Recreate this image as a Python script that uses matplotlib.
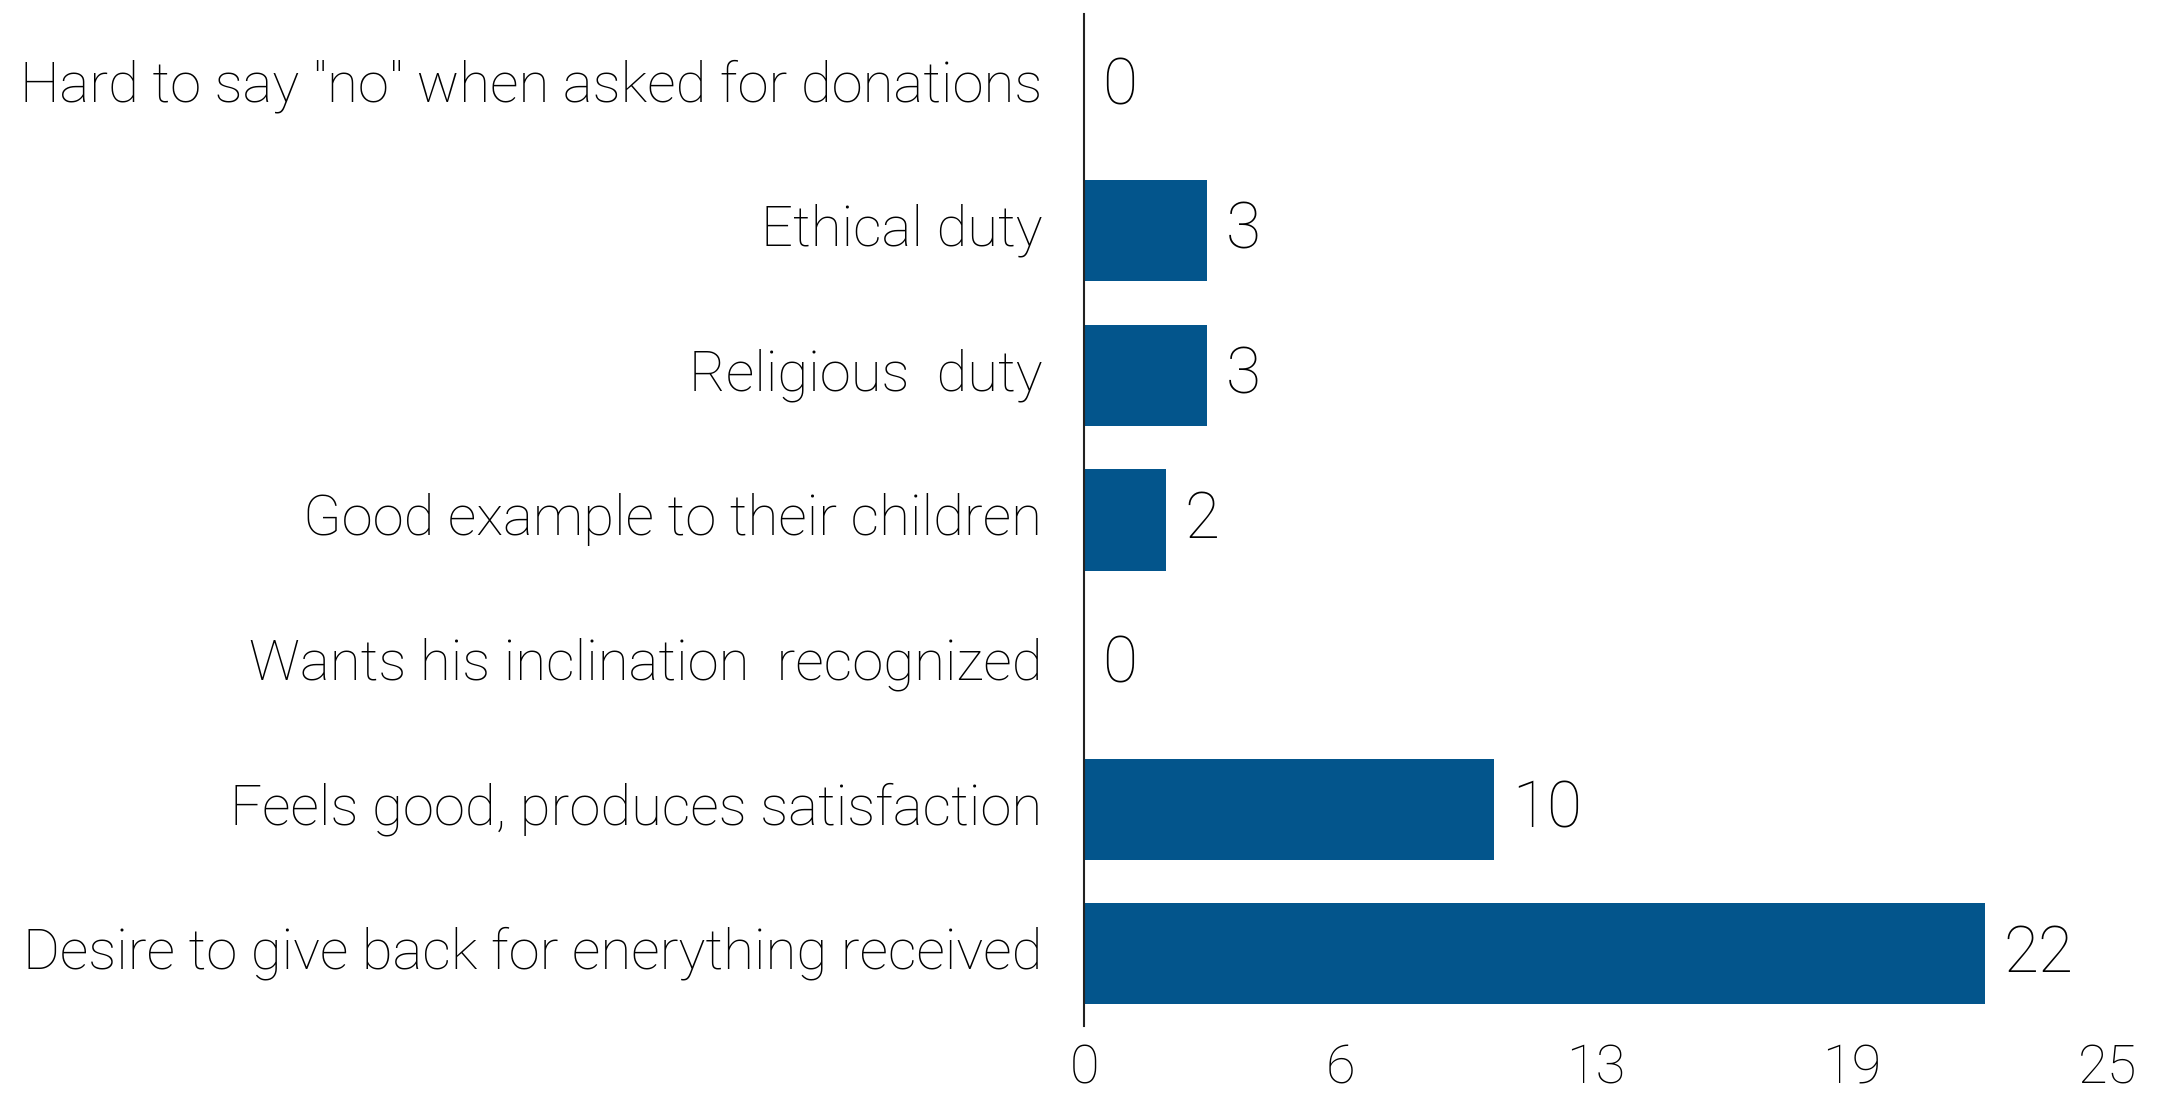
import matplotlib
matplotlib.use("Agg")
import matplotlib.pyplot as plt
from matplotlib.transforms import ScaledTranslation

categories = [
    "Desire to give back for enerything received",
    "Feels good, produces satisfaction",
    "Wants his inclination  recognized",
    "Good example to their children",
    "Religious  duty",
    "Ethical duty",
    'Hard to say "no" when asked for donations',
]
counts = [22, 10, 0, 2, 3, 3, 0]
tick_values = [0, 6.25, 12.5, 18.75, 25]
tick_labels = ["0", "6", "13", "19", "25"]

bar_color = "#03558c"
plt.rcParams["font.family"] = ["Roboto", "DejaVu Sans"]
plt.rcParams["font.weight"] = "light"

fig = plt.figure(figsize=(21.6, 11.02), dpi=100)
ax = fig.add_axes([0.5019, 0.069, 0.474, 0.9183])

ypos = range(len(categories))
ax.barh(ypos, counts, height=0.7, color=bar_color)

for y, v in zip(ypos, counts):
    ax.text(v + 0.45, y, str(v), va="center", ha="left", fontsize=46,
            fontweight="light", color="black")

ax.set_xlim(0, 25)
ax.set_ylim(-0.5, 6.5)
ax.set_yticks(list(ypos))
ax.set_yticklabels(categories, fontsize=40.5, fontweight="light")
ax.set_xticks(tick_values)
ax.set_xticklabels(tick_labels, fontsize=39, fontweight="light")
ax.tick_params(axis="both", length=0)
ax.tick_params(axis="y", pad=30)
ax.tick_params(axis="x", pad=12)

# nudge category labels up a little
shift = ScaledTranslation(0, 6 / 100, fig.dpi_scale_trans)
for lbl in ax.get_yticklabels():
    lbl.set_transform(lbl.get_transform() + shift)

for side in ["top", "right", "bottom"]:
    ax.spines[side].set_visible(False)
ax.spines["left"].set_linewidth(1.5)
ax.spines["left"].set_color("#222222")

fig.savefig("out.png", dpi=100)
